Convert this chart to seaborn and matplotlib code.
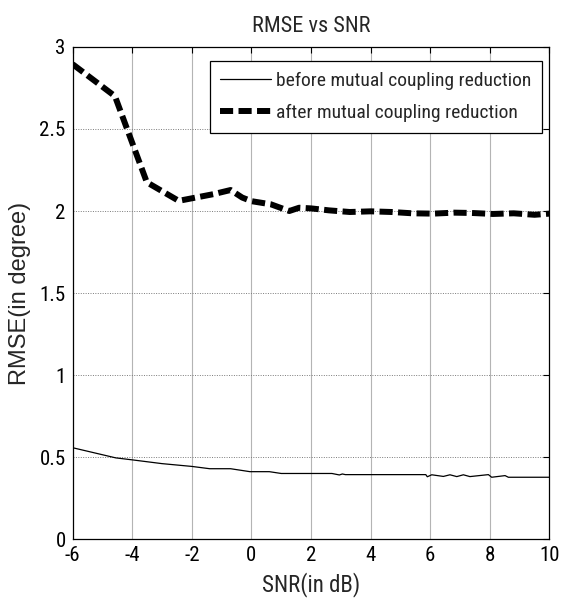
import numpy as np
import pandas as pd
import seaborn as sns
import matplotlib
matplotlib.use("Agg")
import matplotlib.pyplot as plt

# ---- data ----
snr_before = [-6, -4.55, -4, -3, -2, -1.4, -0.7, -0.05, 0.6, 1.0, 2.7, 2.95, 3.05, 3.15, 3.4,
              5.85, 5.9, 6.05, 6.44, 6.66, 6.89, 7.11, 7.33, 7.95, 8.06, 8.51, 8.62, 10]
rmse_before = [0.557, 0.495, 0.483, 0.460, 0.443, 0.429, 0.429, 0.411, 0.411, 0.400, 0.400, 0.391, 0.397, 0.393, 0.393,
               0.393, 0.380, 0.392, 0.382, 0.392, 0.381, 0.392, 0.381, 0.393, 0.377, 0.387, 0.377, 0.377]

snr_after = [-6, -4.58, -3.51, -2.44, -1.27, -0.70, -0.31, 0.0, 0.65, 1.27, 1.6, 2.0, 2.6, 3.3,
             4.0, 4.7, 5.4, 6.1, 6.8, 7.4, 8.1, 8.8, 9.5, 10]
rmse_after = [2.895, 2.70, 2.175, 2.062, 2.103, 2.128, 2.082, 2.06, 2.041, 2.0, 2.02, 2.016, 2.004, 1.994,
              1.998, 1.994, 1.986, 1.984, 1.99, 1.988, 1.982, 1.986, 1.977, 1.984]

x_ticks = [-6, -4, -2, 0, 2, 4, 6, 8, 10]
y_ticks = [0, 0.5, 1, 1.5, 2, 2.5, 3]
y_tick_labels = ["0", "0.5", "1", "1.5", "2", "2.5", "3"]
labels = ["before mutual coupling reduction", "after mutual coupling reduction"]

sns.set_style("white")
narrow = ["Liberation Sans Narrow", "Roboto Condensed", "DejaVu Sans"]
plt.rcParams["font.family"] = narrow
plt.rcParams["font.stretch"] = "condensed"

fig = plt.figure(figsize=(5.63, 6.14), dpi=100)
ax = fig.add_axes([0.129, 0.122, 0.847, 0.8015])

df_b = pd.DataFrame({"SNR": snr_before, "RMSE": rmse_before})
df_a = pd.DataFrame({"SNR": snr_after, "RMSE": rmse_after})

sns.lineplot(data=df_b, x="SNR", y="RMSE", ax=ax, color="black", linewidth=0.9,
             label=labels[0], sort=False, estimator=None)
sns.lineplot(data=df_a, x="SNR", y="RMSE", ax=ax, color="black", linewidth=4.3,
             label=labels[1], sort=False, estimator=None)
ax.lines[1].set_dashes((2.2, 0.9))
ax.lines[1].set_dash_capstyle("butt")

ax.set_xlim(-6, 10)
ax.set_ylim(0, 3)
ax.set_xticks(x_ticks)
ax.set_yticks(y_ticks)
ax.set_xticklabels([str(t) for t in x_ticks])
ax.set_yticklabels(y_tick_labels)

for x in x_ticks[1:-1]:
    ax.axvline(x, color="#b4b4b4", linewidth=0.8, zorder=0)
for y in y_ticks[1:-1]:
    ax.axhline(y, color="#7a7a7a", linewidth=0.7, linestyle=(0, (1, 1.5)), zorder=0)

ax.tick_params(direction="in", length=4, width=0.8, top=True, right=True,
               labelsize=15, pad=5, colors="black")
for s in ax.spines.values():
    s.set_color("black")
    s.set_linewidth(0.9)

ax.set_title("RMSE vs SNR", fontsize=16, pad=11)
ax.set_xlabel("SNR(in dB)", fontsize=16.5, labelpad=5)
ax.set_ylabel("RMSE(in degree)", fontsize=17, family=["Liberation Sans", "DejaVu Sans"],
              fontstretch="normal", labelpad=6)

leg = ax.legend(loc="upper right", bbox_to_anchor=(0.984, 0.972), borderaxespad=0,
                frameon=True, fancybox=False, fontsize=14, handlelength=2.6,
                handletextpad=0.25, borderpad=0.55, labelspacing=0.75)
leg.get_frame().set_edgecolor("black")
leg.get_frame().set_linewidth(0.9)
leg.get_frame().set_alpha(1)

fig.savefig("out.png", dpi=100)
